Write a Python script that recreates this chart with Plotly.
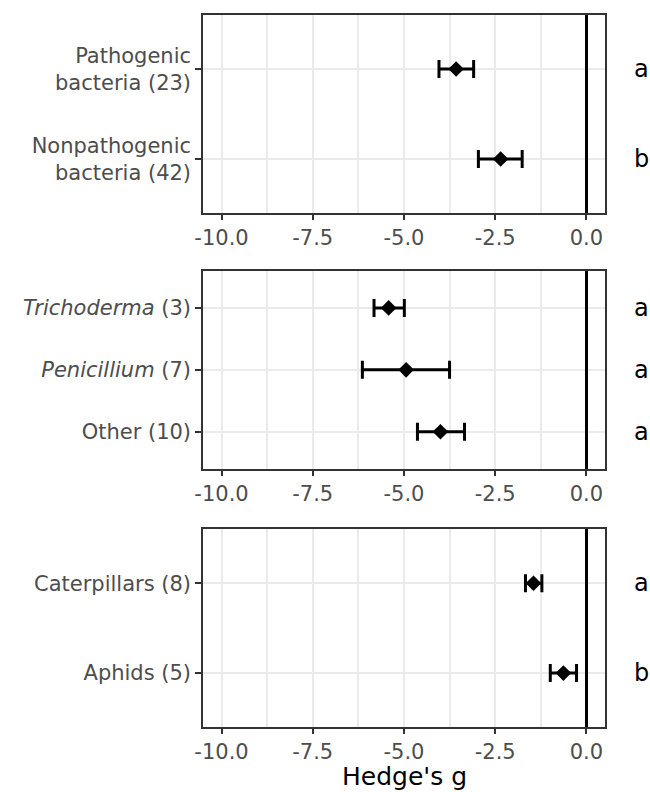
import plotly.graph_objects as go

# ---------------- data ----------------
bact_labels = ["Pathogenic<br>bacteria (23)", "Nonpathogenic<br>bacteria (42)"]
bact_mean = [-3.57, -2.35]
bact_lo = [-4.04, -2.96]
bact_hi = [-3.09, -1.76]
bact_letters = ["a", "b"]

fungi_labels = ["<i>Trichoderma</i> (3)", "<i>Penicillium</i> (7)", "Other (10)"]
fungi_mean = [-5.42, -4.94, -4.00]
fungi_lo = [-5.82, -6.14, -4.63]
fungi_hi = [-4.99, -3.75, -3.34]
fungi_letters = ["a", "a", "a"]

insect_labels = ["Caterpillars (8)", "Aphids (5)"]
insect_mean = [-1.45, -0.63]
insect_lo = [-1.67, -0.99]
insect_hi = [-1.22, -0.27]
insect_letters = ["a", "b"]

x_tickvals = [-10.0, -7.5, -5.0, -2.5, 0.0]
x_ticktext = ["-10.0", "-7.5", "-5.0", "-2.5", "0.0"]
x_title = "Hedge's g"

# ---------------- layout helpers ----------------
W, H = 650, 792
FONT = "DejaVu Sans"
GRID = "#EBEBEB"
BORDER = "#333333"
TICKCOL = "#4D4D4D"

panels = [
    (bact_labels, bact_mean, bact_lo, bact_hi, bact_letters, 15, 213),
    (fungi_labels, fungi_mean, fungi_lo, fungi_hi, fungi_letters, 270.7, 469),
    (insect_labels, insect_mean, insect_lo, insect_hi, insect_letters, 529.3, 727),
]

x_left, x_right = 197, 604

fig = go.Figure()
annotations = []
layout = dict(
    width=W, height=H,
    margin=dict(l=0, r=0, t=0, b=0),
    paper_bgcolor="white", plot_bgcolor="white",
    showlegend=False,
    font=dict(family=FONT, size=21, color=TICKCOL),
)

for i, (labels, mean, lo, hi, letters, top, bottom) in enumerate(panels):
    n = len(labels)
    idx = "" if i == 0 else str(i + 1)
    ypos = list(range(1, n + 1))
    fig.add_trace(go.Scatter(
        x=mean, y=ypos, mode="markers",
        xaxis="x" + idx, yaxis="y" + idx,
        marker=dict(symbol="diamond", size=12, color="black"),
        error_x=dict(
            type="data", symmetric=False,
            array=[h - m for h, m in zip(hi, mean)],
            arrayminus=[m - l for m, l in zip(mean, lo)],
            color="black", thickness=3, width=9,
        ),
        hoverinfo="skip",
    ))
    layout["xaxis" + idx] = dict(
        domain=[x_left / W, x_right / W],
        anchor="y" + idx,
        range=[-10.5, 0.5],
        tickvals=x_tickvals, ticktext=x_ticktext,
        ticks="outside", ticklen=5, tickwidth=1.5, tickcolor=BORDER,
        tickfont=dict(family=FONT, size=21, color=TICKCOL),
        showgrid=True, gridcolor=GRID, gridwidth=1.5,
        minor=dict(tickvals=[-8.75, -6.25, -3.75, -1.25],
                   showgrid=True, gridcolor=GRID, gridwidth=1.5, ticks=""),
        zeroline=True, zerolinecolor="black", zerolinewidth=3,
        showline=True, mirror=True, linecolor=BORDER, linewidth=2,
    )
    layout["yaxis" + idx] = dict(
        domain=[1 - bottom / H, 1 - top / H],
        anchor="x" + idx,
        range=[n + 0.6, 0.4],
        tickvals=ypos, ticktext=labels,
        ticks="outside", ticklen=6, tickwidth=1.5, tickcolor=BORDER,
        tickfont=dict(family=FONT, size=21, color=TICKCOL),
        showgrid=True, gridcolor=GRID, gridwidth=1.5,
        zeroline=False,
        showline=True, mirror=True, linecolor=BORDER, linewidth=2,
    )
    for yv, letter in zip(ypos, letters):
        annotations.append(dict(
            x=641 / W, xref="paper", y=yv, yref="y" + idx,
            text=letter, showarrow=False,
            xanchor="center", yanchor="middle",
            font=dict(family=FONT, size=24, color="black"),
        ))

annotations.append(dict(
    x=401 / W, xref="paper", y=1 - 776 / H, yref="paper",
    text=x_title, showarrow=False, xanchor="center", yanchor="middle",
    font=dict(family=FONT, size=25, color="black"),
))
layout["annotations"] = annotations
fig.update_layout(**layout)

fig.write_html(
    "out.html",
    config={"displayModeBar": False},
    post_script="document.body.style.margin='0px';document.body.style.overflow='hidden';",
)
